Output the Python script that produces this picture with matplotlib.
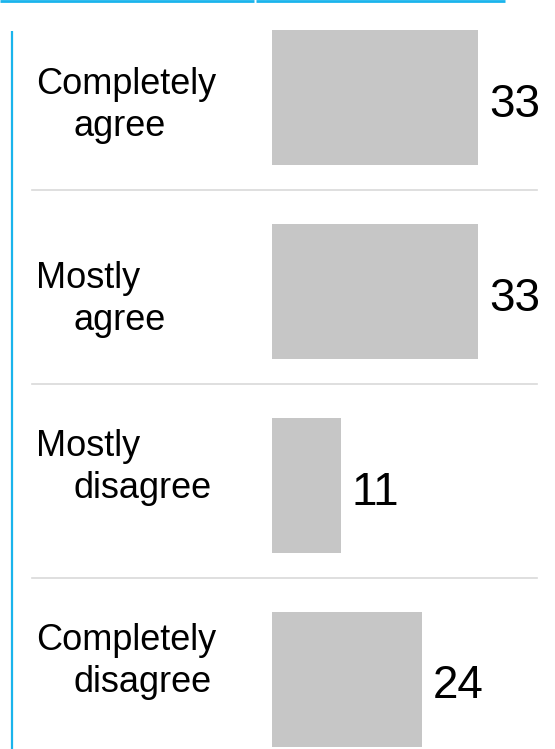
import matplotlib
matplotlib.use('Agg')
import matplotlib.pyplot as plt
from matplotlib.lines import Line2D

# data
categories_top = ['Completely', 'Mostly', 'Mostly', 'Completely']
categories_bottom = ['agree', 'agree', 'disagree', 'disagree']
values = [33, 33, 11, 24]

blue = '#1ab4ec'
bar_color = '#c6c6c6'
sep_color = '#d9d9d9'

plt.rcParams['font.family'] = ['Liberation Sans', 'DejaVu Sans']

W, H = 555, 749
fig = plt.figure(figsize=(W / 100, H / 100), dpi=100)
ax = fig.add_axes([0, 0, 1, 1])  # axes covers the whole figure

# x scale: value 0 sits at pixel 272, 33 at pixel 478
px_per_unit = (478 - 272) / 33.0
ax.set_xlim(-272 / px_per_unit, (W - 272) / px_per_unit)
# y scale: row i centred at pixel 97 + 194*i from the top
row_h = 194.0
ax.set_ylim((H - 97) / row_h, -97 / row_h)

rows = list(range(len(values)))
ax.barh(rows, values, height=135 / row_h, color=bar_color, edgecolor='none')

# value labels to the right of each bar
num_base = [117, 311, 505, 698]  # pixel baselines
for i, v in enumerate(values):
    ax.text(v + 11 / px_per_unit, (num_base[i] - 97) / row_h, str(v),
            fontsize=33, va='baseline', ha='left', color='black')

# category labels, second line indented
lab_base1 = [94, 288, 456, 650]
lab_base2 = [136, 330, 498, 692]
for i in rows:
    ax.text((36 - 272) / px_per_unit, (lab_base1[i] - 97) / row_h, categories_top[i],
            fontsize=26, va='baseline', ha='left', color='black')
    ax.text((74 - 272) / px_per_unit, (lab_base2[i] - 97) / row_h, categories_bottom[i],
            fontsize=26, va='baseline', ha='left', color='black')

# thin separators between rows
for i in rows[:-1]:
    ax.axhline(i + 0.48, xmin=32 / W, xmax=537 / W, color=sep_color, lw=1.2)

ax.axis('off')

# blue header rules and left rule (figure pixels)
top = 1 - 1.2 / H
fig.add_artist(Line2D([0, 254 / W], [top, top], color=blue, lw=2, solid_capstyle='butt'))
fig.add_artist(Line2D([256 / W, 505 / W], [top, top], color=blue, lw=2, solid_capstyle='butt'))
fig.add_artist(Line2D([12 / W, 12 / W], [0, 1 - 31 / H], color=blue, lw=1.6, solid_capstyle='butt'))

fig.savefig('out.png', dpi=100)
